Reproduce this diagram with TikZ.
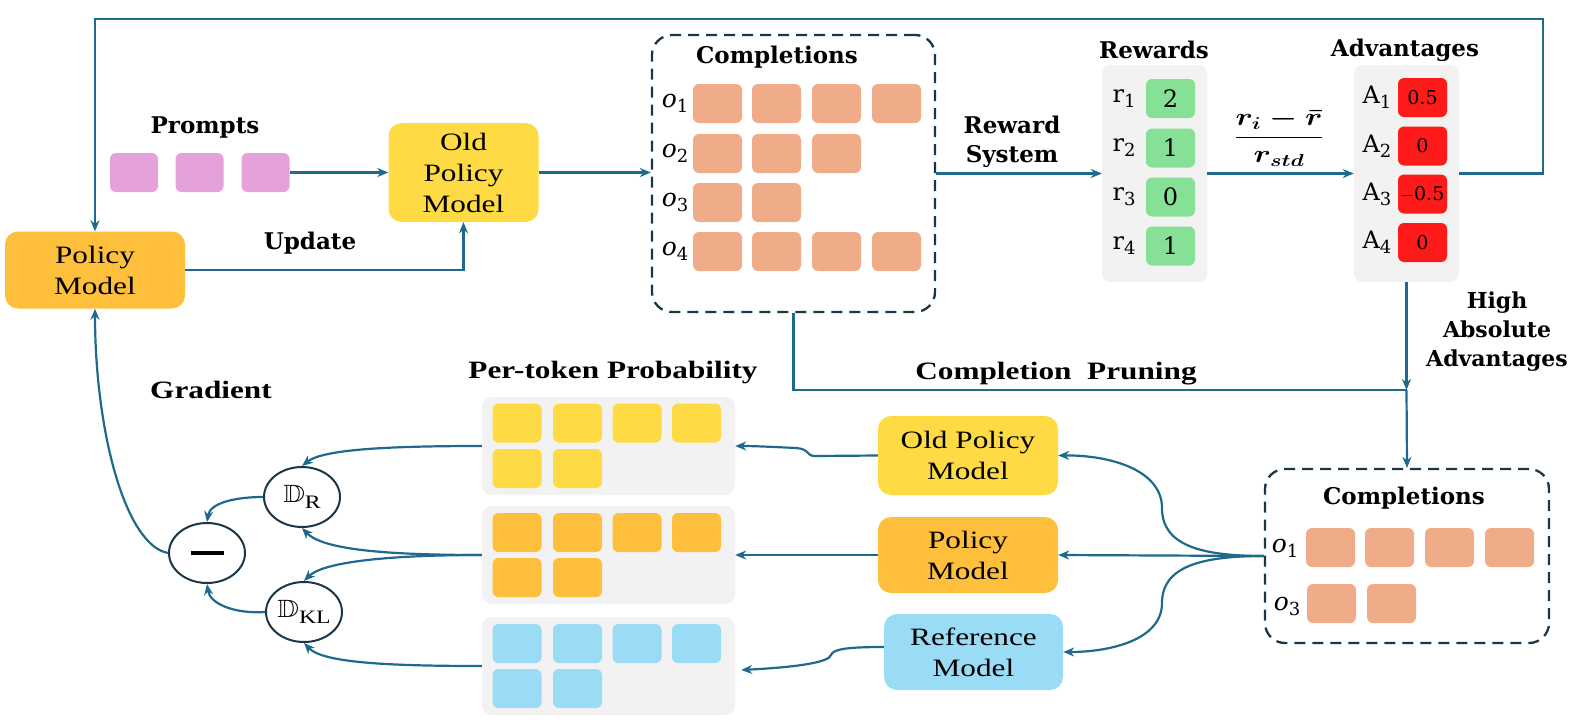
\documentclass[tikz,border=0pt]{standalone}
\usepackage{fontspec}
\usepackage{amssymb}
\setmainfont{Liberation Serif}[FakeStretch=1.25]
\newfontfamily\dvs{DejaVu Serif}
\usetikzlibrary{arrows.meta,shapes.geometric}
\definecolor{lineblue}{HTML}{1F6A8C}
\definecolor{navy}{HTML}{1B3747}
\definecolor{polor}{HTML}{FDBF3C}
\definecolor{oldyel}{HTML}{FEDB45}
\definecolor{refblue}{HTML}{9ADCF5}
\definecolor{pinktok}{HTML}{E5A1DA}
\definecolor{salmon}{HTML}{F0AC89}
\definecolor{rgreen}{HTML}{86E096}
\definecolor{ared}{HTML}{FF1A1A}
\definecolor{panelgray}{HTML}{F2F2F2}
\newcommand\subx[1]{\raisebox{-5pt}{\fontsize{18}{18}\selectfont #1}}
\begin{document}
\begin{tikzpicture}[x=1pt,y=-1pt,
  conn/.style={draw=lineblue,line width=2.2pt},
  arr/.style={conn,-{Stealth[length=11pt,width=9pt]}},
  model/.style={rounded corners=13pt,align=center,inner sep=0pt,font=\fontsize{25}{31}\selectfont},
  lbl/.style={font=\dvs\bfseries\fontsize{23}{29}\selectfont,align=center,inner sep=0pt},
  tlbl/.style={font=\bfseries\fontsize{25}{30}\selectfont,inner sep=0pt},
  tok/.style={rounded corners=6pt,minimum width=49pt,minimum height=39pt,inner sep=0pt},
  panel/.style={fill=panelgray,rounded corners=10pt,inner sep=0pt},
  dashbox/.style={draw=navy,line width=2.3pt,dash pattern=on 11pt off 7pt,rounded corners=20pt,inner sep=0pt},
  olbl/.style={font=\dvs\fontsize{25}{25}\selectfont,inner sep=0pt},
  val/.style={font=\dvs\fontsize{24}{24}\selectfont},
  circ/.style={ellipse,draw=navy,line width=2pt,minimum width=76pt,minimum height=60pt,inner sep=0pt,fill=white}
]
\useasboundingbox (0,0) rectangle (1574,728);

% ---------- top row ----------
\node[model,fill=polor,minimum width=180pt,minimum height=77pt] (pol) at (95,270) {Policy\\Model};
\node[lbl] (prl) at (205,128) {Prompts};
\node[tok,fill=pinktok,minimum width=48pt] (pp1) at (134,172.5) {};
\node[tok,fill=pinktok,minimum width=48pt] (pp2) at (199.5,172.5) {};
\node[tok,fill=pinktok,minimum width=48pt] (pp3) at (265.5,172.5) {};
\node[model,fill=oldyel,minimum width=150pt,minimum height=99pt] (op1) at (463.5,172.5) {Old\\Policy\\Model};
\node[lbl] (upl) at (310,243) {Update};

\node[dashbox,minimum width=283pt,minimum height=277pt] (comp1) at (793.5,173.5) {};
\node[lbl] (c1l) at (777,57) {Completions};
\foreach \r/\n/\y in {1/4/103.5,2/3/153.5,3/2/202.5,4/4/251.5}{
  \node[olbl] (co\r) at (675,\y) {{\itshape o}\subx{\r}};
  \foreach \c/\x in {1/717.5,2/776.5,3/836.5,4/896.5}{
    \ifnum\c>\n\relax\else
      \node[tok,fill=salmon] (ct\r\c) at (\x,\y) {};
    \fi
  }
}

\node[lbl] (rsl) at (1012,142) {Reward\\System};
\node[lbl] (rwl) at (1154,50) {Rewards};
\node[panel,minimum width=105pt,minimum height=217pt,rounded corners=8pt] (rew) at (1154.5,173.5) {};
\foreach \i/\y/\v in {1/98.5/2,2/148/1,3/197/0,4/246/1}{
  \node[val] (rl\i) at (1124,\y) {r\subx{\i}};
  \node[tok,fill=rgreen,val] (rv\i) at (1170.5,\y) {\v};
}

\node[inner sep=0pt] (frac) at (1279,138) {\scalebox{1.25}[1]{\fontsize{27}{31}\selectfont\mathversion{bold}$\displaystyle\frac{r_i-\bar{r}}{r_{std}}$}};

\node[lbl] (avl) at (1405,50) {Advantages};
\node[panel,minimum width=105pt,minimum height=217pt,rounded corners=8pt] (adv) at (1406.5,173.5) {};
\foreach \i/\y/\v in {1/97.5/0.5,2/146/0,3/194/$-$0.5,4/242.5/0}{
  \node[val] (al\i) at (1377,\y) {A\subx{\i}};
  \node[tok,fill=ared,font=\dvs\fontsize{19}{19}\selectfont] (av\i) at (1422.5,\y) {\v};
}

\node[lbl,font=\dvs\bfseries\fontsize{22}{29}\selectfont] (hal) at (1497,332) {High\\Absolute\\Advantages};

% ---------- bottom ----------
\node[tlbl] (cpl) at (1056,374) {Completion\ \ Pruning};
\node[tlbl] (ptl) at (613,373) {Per-token Probability};
\node[tlbl] (grl) at (211,390) {Gradient};

\node[panel,minimum width=253pt,minimum height=98pt] (p1) at (608.5,446) {};
\node[panel,minimum width=253pt,minimum height=98pt] (p2) at (608.5,555) {};
\node[panel,minimum width=253pt,minimum height=98pt] (p3) at (608.5,666) {};
\foreach \p/\col/\ya/\yb in {1/oldyel/423/468.5,2/polor/532.5/577.5,3/refblue/643.5/688.5}{
  \foreach \c/\x in {1/517,2/577.5,3/637,4/696.5}{
    \node[tok,fill=\col] (pt\p a\c) at (\x,\ya) {};
  }
  \node[tok,fill=\col] (pt\p b1) at (517,\yb) {};
  \node[tok,fill=\col] (pt\p b2) at (577.5,\yb) {};
}

\node[model,fill=oldyel,minimum width=180pt,minimum height=79pt] (op2) at (968,455.5) {Old Policy\\Model};
\node[model,fill=polor,minimum width=180pt,minimum height=76pt] (pol2) at (968,555) {Policy\\Model};
\node[model,fill=refblue,minimum width=179pt,minimum height=76pt] (ref) at (973.5,652) {Reference\\Model};

\node[dashbox,minimum width=284pt,minimum height=174pt] (comp2) at (1407,556) {};
\node[lbl] (c2l) at (1404,498) {Completions};
\node[olbl] (bo1) at (1285,548) {{\itshape o}\subx{1}};
\node[olbl] (bo3) at (1287,606) {{\itshape o}\subx{3}};
\foreach \c/\x in {1/1330.5,2/1389.5,3/1449.5,4/1509.5}{
  \node[tok,fill=salmon] (bt1\c) at (\x,547.5) {};
}
\node[tok,fill=salmon] (bt31) at (1331.5,603.5) {};
\node[tok,fill=salmon] (bt32) at (1391.5,603.5) {};

\node[circ] (dr) at (302,497) {\scalebox{1.2}[1]{\fontsize{25}{25}\selectfont$\mathbb{D}$}\raisebox{-6pt}{\fontsize{19}{19}\selectfont R}};
\node[circ] (mn) at (207,553) {\rule{33pt}{4pt}};
\node[circ] (dkl) at (304,612) {\scalebox{1.2}[1]{\fontsize{25}{25}\selectfont$\mathbb{D}$}\raisebox{-6pt}{\fontsize{19}{19}\selectfont KL}};

% ---------- connectors ----------
\draw[arr] (adv.east) -| (1543,19) -| (pol.north);
\draw[arr] (pp3.east) -- (op1.west);
\draw[arr] (pol.east) -| (op1.south);
\draw[arr] (op1.east) -- (op1.east -| comp1.west);
\draw[arr] (comp1.east) -- (rew.west);
\draw[arr] (rew.east) -- (adv.west);
\coordinate (prune) at (1406.5,390);
\draw[arr] (adv.south) -- (prune);
\draw[conn] (comp1.south) |- (prune);
\draw[arr] (prune) -- (comp2.north);

\draw[arr] (comp2.west) .. controls (1200,556) and (1162,545) .. (1162,508) .. controls (1162,470) and (1110,455) .. (op2.east);
\draw[arr] (comp2.west) -- (pol2.east);
\draw[arr] (comp2.west) .. controls (1200,556) and (1162,567) .. (1162,603) .. controls (1162,640) and (1110,652) .. (ref.east);

\draw[arr] (op2.west) -- (815,456) .. controls (806,456) and (810,449) .. (796,448) .. controls (775,447) and (755,446) .. (p1.east);
\draw[arr] (pol2.west) -- (p2.east);
\draw[arr] ([yshift=5pt]ref.west) .. controls (848,647) and (833,649) .. (831,655) .. controls (829,662) and (800,667) .. ([xshift=6pt,yshift=-4pt]p3.east);

\draw[arr] (p1.west) .. controls (380,446) and (322,450) .. (dr.north);
\draw[arr] (p2.west) .. controls (380,555) and (322,549) .. (dr.south);
\draw[arr] (p2.west) .. controls (380,555) and (322,563) .. (dkl.north);
\draw[arr] (p3.west) .. controls (380,666) and (322,662) .. (dkl.south);
\draw[arr] (dr.west) .. controls (235,497) and (210,503) .. (mn.north);
\draw[arr] (dkl.west) .. controls (235,614) and (210,604) .. (mn.south);
\draw[arr] (mn.west) .. controls (125,545) and (95,430) .. (pol.south);
\end{tikzpicture}
\end{document}
